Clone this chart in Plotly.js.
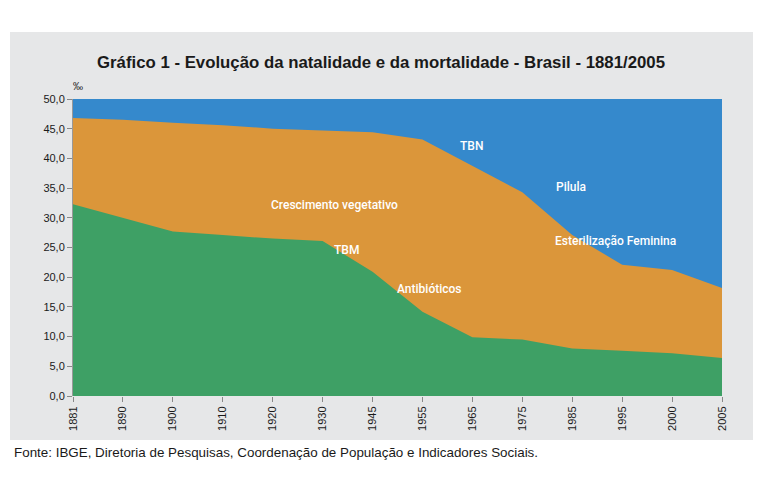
<!DOCTYPE html>
<html>
<head>
<meta charset="utf-8">
<script src="https://cdn.plot.ly/plotly-3.0.1.min.js"></script>
<style>
html,body{margin:0;padding:0;background:#fff;}
#wrap{position:relative;width:762px;height:492px;}
#panel{position:absolute;left:10px;top:32px;width:743px;height:408px;background:#e6e7e8;}
#chart{position:absolute;left:0;top:0;width:762px;height:492px;}
</style>
</head>
<body>
<div id="wrap"><div id="panel"></div><div id="chart"></div></div>
<script>
const anos = ['1881','1890','1900','1910','1920','1930','1945','1955','1965','1975','1985','1995','2000','2005'];
const tbn = [46.8, 46.5, 46.0, 45.6, 45.0, 44.7, 44.4, 43.2, 38.7, 34.3, 27.1, 22.1, 21.2, 18.2];
const tbm = [32.3, 30.0, 27.7, 27.1, 26.5, 26.1, 20.9, 14.2, 9.9, 9.5, 8.0, 7.6, 7.2, 6.4];
const yTicks = [0, 5, 10, 15, 20, 25, 30, 35, 40, 45, 50];

const corAzul = 'rgb(53,137,204)';
const corLaranja = 'rgb(219,150,58)';
const corVerde = 'rgb(62,160,101)';

const traces = [
  {x: anos, y: tbn, type: 'scatter', mode: 'lines', fill: 'tozeroy',
   fillcolor: corLaranja, line: {width: 0, color: corLaranja}, hoverinfo: 'skip'},
  {x: anos, y: tbm, type: 'scatter', mode: 'lines', fill: 'tozeroy',
   fillcolor: corVerde, line: {width: 0, color: corVerde}, hoverinfo: 'skip'}
];

const L = 73, R = 722, T = 99, B = 396;
const px = v => (v - L) / (R - L);
const py = v => (B - v) / (B - T);

const lab = (text, x, y) => ({text: text, x: x, y: y, xref: 'x', yref: 'y', showarrow: false,
  font: {family: 'Roboto, Arial, sans-serif', size: 12, color: '#ffffff', weight: 500}});

const layout = {
  width: 762, height: 492,
  margin: {l: L, r: 762 - R, t: T, b: 492 - B, pad: 0},
  paper_bgcolor: 'rgba(0,0,0,0)',
  plot_bgcolor: corAzul,
  showlegend: false,
  separators: ',.',
  title: {text: '<b>Gráfico 1 - Evolução da natalidade e da mortalidade - Brasil - 1881/2005</b>',
    x: 0.5, xanchor: 'center', y: 1 - 62/492, yanchor: 'middle',
    font: {family: 'Arial, "Liberation Sans", sans-serif', size: 16.8, color: '#1a1a1a'}},
  xaxis: {type: 'category', range: [0, anos.length - 1], tickangle: -90,
    ticks: 'outside', ticklen: 5, tickcolor: '#888', showgrid: false, zeroline: false,
    showline: false, fixedrange: true,
    tickfont: {family: 'Arial, "Liberation Sans", sans-serif', size: 11, color: '#1a1a1a'}},
  yaxis: {range: [0, 50], tickvals: yTicks, tickformat: '.1f',
    ticks: 'outside', ticklen: 5, tickcolor: '#888', showgrid: false, zeroline: false,
    showline: true, linecolor: '#999', linewidth: 1, fixedrange: true,
    tickfont: {family: 'Arial, "Liberation Sans", sans-serif', size: 11, color: '#1a1a1a'}},
  annotations: [
    lab('TBN', 7.99, 42.1),
    lab('Crescimento vegetativo', 5.23, 32.1),
    lab('TBM', 5.47, 24.6),
    lab('Antibióticos', 7.15, 18.0),
    lab('Pilula', 9.98, 35.2),
    lab('Esterilização Feminina', 10.86, 26.1),
    {text: '‰', xref: 'paper', yref: 'paper', x: px(78), y: py(86), showarrow: false,
     xanchor: 'center', yanchor: 'middle',
     font: {family: 'Arial, sans-serif', size: 10, color: '#1a1a1a'}},
    {text: 'Fonte: IBGE, Diretoria de Pesquisas, Coordenação de População e Indicadores Sociais.',
     xref: 'paper', yref: 'paper', x: px(12), y: py(453), xanchor: 'left', yanchor: 'middle',
     showarrow: false, font: {family: 'Arial, "Liberation Sans", sans-serif', size: 13.4, color: '#1a1a1a'}}
  ]
};

Plotly.newPlot('chart', traces, layout, {displayModeBar: false, staticPlot: true});
</script>
</body>
</html>
